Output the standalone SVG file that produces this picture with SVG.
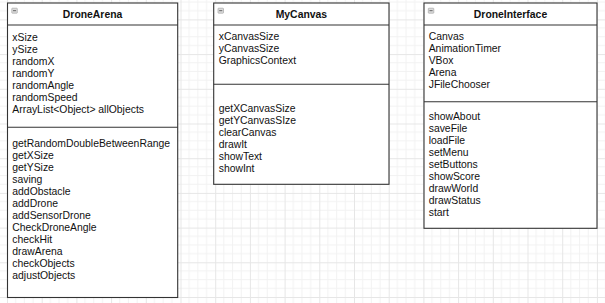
<svg xmlns="http://www.w3.org/2000/svg" width="605" height="303" viewBox="0 0 605 303">
  <style>
    .box { fill: #ffffff; stroke: #333333; stroke-width: 1.1; }
    .sep { stroke: #333333; stroke-width: 1.1; }
    .title { font-family: "Liberation Sans", Arial, sans-serif; font-size: 10.4px; font-weight: bold; fill: #111111; text-anchor: middle; }
    .item { font-family: "Liberation Sans", Arial, sans-serif; font-size: 10.4px; fill: #111111; }
    .icon { fill: #dcdcdc; stroke: #9a9a9a; stroke-width: 0.6; }
    .icon-bar { stroke: #444444; stroke-width: 0.8; }
  </style>
  <defs>
    <pattern id="grid" patternUnits="userSpaceOnUse" x="7" y="19.4" width="34.7" height="34.7">
      <path d="M8.675 0V34.7M17.35 0V34.7M26.025 0V34.7M0 8.675H34.7M0 17.35H34.7M0 26.025H34.7" stroke="#f2f2f2" stroke-width="1" fill="none"/>
      <path d="M0.5 0V34.7M0 0.5H34.7" stroke="#e6e6e6" stroke-width="1" fill="none"/>
    </pattern>
    <g id="collapse">
      <rect class="icon" x="0" y="0" width="5.5" height="5" rx="0.6"/>
      <line class="icon-bar" x1="1.2" y1="2.5" x2="4.3" y2="2.5"/>
    </g>
  </defs>

  <rect width="605" height="303" fill="#ffffff"/>
  <rect width="605" height="303" fill="url(#grid)"/>

  <!-- DroneArena class -->
  <g id="DroneArena">
    <rect class="box" x="7.5" y="3" width="170.2" height="294.5"/>
    <line class="sep" x1="7.5" y1="25" x2="177.7" y2="25"/>
    <line class="sep" x1="7.5" y1="127.3" x2="177.7" y2="127.3"/>
    <use href="#collapse" x="11.8" y="8.2"/>
    <text class="title" x="92.6" y="17.7">DroneArena</text>
    <text class="item" x="12.3" y="40.7">xSize</text>
    <text class="item" x="12.3" y="52.7">ySize</text>
    <text class="item" x="12.3" y="64.7">randomX</text>
    <text class="item" x="12.3" y="76.7">randomY</text>
    <text class="item" x="12.3" y="88.7">randomAngle</text>
    <text class="item" x="12.3" y="100.7">randomSpeed</text>
    <text class="item" x="12.3" y="112.7">ArrayList&lt;Object&gt; allObjects</text>
    <text class="item" x="12.3" y="146.7">getRandomDoubleBetweenRange</text>
    <text class="item" x="12.3" y="158.7">getXSize</text>
    <text class="item" x="12.3" y="170.7">getYSize</text>
    <text class="item" x="12.3" y="182.7">saving</text>
    <text class="item" x="12.3" y="194.7">addObstacle</text>
    <text class="item" x="12.3" y="206.7">addDrone</text>
    <text class="item" x="12.3" y="218.7">addSensorDrone</text>
    <text class="item" x="12.3" y="230.7">CheckDroneAngle</text>
    <text class="item" x="12.3" y="242.7">checkHit</text>
    <text class="item" x="12.3" y="254.7">drawArena</text>
    <text class="item" x="12.3" y="266.7">checkObjects</text>
    <text class="item" x="12.3" y="278.7">adjustObjects</text>
  </g>

  <!-- MyCanvas class -->
  <g id="MyCanvas">
    <rect class="box" x="213.7" y="3" width="175.3" height="181.3"/>
    <line class="sep" x1="213.7" y1="25" x2="389" y2="25"/>
    <line class="sep" x1="213.7" y1="84.3" x2="389" y2="84.3"/>
    <use href="#collapse" x="218" y="8.2"/>
    <text class="title" x="301.4" y="17.7">MyCanvas</text>
    <text class="item" x="218.7" y="40.2">xCanvasSize</text>
    <text class="item" x="218.7" y="52.2">yCanvasSize</text>
    <text class="item" x="218.7" y="64.2">GraphicsContext</text>
    <text class="item" x="218.7" y="111.7">getXCanvasSize</text>
    <text class="item" x="218.7" y="123.7">getYCanvasSIze</text>
    <text class="item" x="218.7" y="135.7">clearCanvas</text>
    <text class="item" x="218.7" y="147.7">drawIt</text>
    <text class="item" x="218.7" y="159.7">showText</text>
    <text class="item" x="218.7" y="171.7">showInt</text>
  </g>

  <!-- DroneInterface class -->
  <g id="DroneInterface">
    <rect class="box" x="424" y="3" width="173" height="225.3"/>
    <line class="sep" x1="424" y1="25" x2="597" y2="25"/>
    <line class="sep" x1="424" y1="101.7" x2="597" y2="101.7"/>
    <use href="#collapse" x="428.3" y="8.2"/>
    <text class="title" x="510.5" y="17.7">DroneInterface</text>
    <text class="item" x="428.7" y="40.2">Canvas</text>
    <text class="item" x="428.7" y="52.2">AnimationTimer</text>
    <text class="item" x="428.7" y="64.2">VBox</text>
    <text class="item" x="428.7" y="76.2">Arena</text>
    <text class="item" x="428.7" y="88.2">JFileChooser</text>
    <text class="item" x="428.7" y="120.2">showAbout</text>
    <text class="item" x="428.7" y="132.2">saveFile</text>
    <text class="item" x="428.7" y="144.2">loadFile</text>
    <text class="item" x="428.7" y="156.2">setMenu</text>
    <text class="item" x="428.7" y="168.2">setButtons</text>
    <text class="item" x="428.7" y="180.2">showScore</text>
    <text class="item" x="428.7" y="192.2">drawWorld</text>
    <text class="item" x="428.7" y="204.2">drawStatus</text>
    <text class="item" x="428.7" y="216.2">start</text>
  </g>

  <!-- no connectors between these classes -->
  <g id="connectors"/>
</svg>
